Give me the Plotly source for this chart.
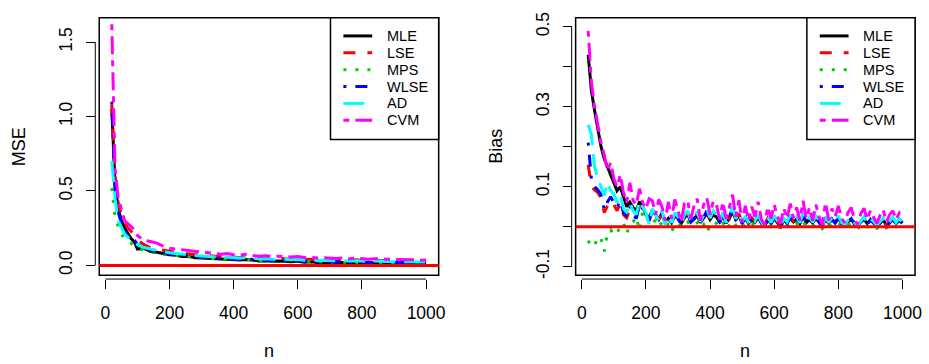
import plotly.graph_objects as go

# ---------------- data ----------------
methods = ["MLE", "LSE", "MPS", "WLSE", "AD", "CVM"]

n_mse = [20, 30, 40, 50, 60, 70, 80, 90, 100,
         120, 140, 160, 180, 200, 220, 240, 260, 280, 300,
         320, 340, 360, 380, 400, 420, 440, 460, 480, 500,
         520, 540, 560, 580, 600, 620, 640, 660, 680, 700,
         720, 740, 760, 780, 800, 820, 840, 860, 880, 900,
         920, 940, 960, 980, 1000]

mse_mle = [1.05, 0.55, 0.38, 0.30, 0.25, 0.21, 0.18, 0.16, 0.11,
           0.115, 0.095, 0.088, 0.078, 0.072, 0.068, 0.060, 0.062, 0.052, 0.050,
           0.048, 0.045, 0.040, 0.042, 0.038, 0.036, 0.040, 0.033, 0.030, 0.032,
           0.028, 0.030, 0.026, 0.025, 0.028, 0.022, 0.024, 0.020, 0.022, 0.019,
           0.018, 0.020, 0.017, 0.019, 0.016, 0.015, 0.017, 0.014, 0.015, 0.013,
           0.014, 0.012, 0.013, 0.011, 0.012]
mse_lse = [1.08, 0.60, 0.42, 0.34, 0.29, 0.25, 0.23, 0.20, 0.17,
           0.14, 0.12, 0.11, 0.10, 0.095, 0.088, 0.082, 0.080, 0.072, 0.070,
           0.066, 0.062, 0.058, 0.060, 0.056, 0.052, 0.060, 0.050, 0.048, 0.050,
           0.046, 0.048, 0.044, 0.042, 0.046, 0.040, 0.042, 0.038, 0.040, 0.036,
           0.036, 0.040, 0.034, 0.038, 0.034, 0.032, 0.036, 0.032, 0.034, 0.030,
           0.032, 0.030, 0.031, 0.028, 0.030]
mse_mps = [0.52, 0.33, 0.26, 0.21, 0.18, 0.16, 0.15, 0.13, 0.12,
           0.10, 0.09, 0.08, 0.075, 0.070, 0.065, 0.060, 0.058, 0.052, 0.050,
           0.048, 0.046, 0.042, 0.044, 0.040, 0.038, 0.040, 0.035, 0.032, 0.034,
           0.030, 0.032, 0.028, 0.027, 0.030, 0.025, 0.026, 0.023, 0.024, 0.021,
           0.020, 0.022, 0.019, 0.021, 0.018, 0.017, 0.019, 0.016, 0.017, 0.015,
           0.016, 0.014, 0.015, 0.013, 0.014]
mse_wlse = [1.10, 0.50, 0.36, 0.28, 0.24, 0.21, 0.19, 0.17, 0.14,
            0.12, 0.10, 0.09, 0.085, 0.078, 0.072, 0.066, 0.064, 0.058, 0.055,
            0.052, 0.050, 0.045, 0.048, 0.043, 0.040, 0.045, 0.038, 0.035, 0.037,
            0.033, 0.035, 0.031, 0.030, 0.033, 0.027, 0.029, 0.025, 0.027, 0.024,
            0.023, 0.025, 0.022, 0.024, 0.021, 0.020, 0.022, 0.019, 0.020, 0.018,
            0.019, 0.017, 0.018, 0.016, 0.017]
mse_ad = [0.70, 0.45, 0.30, 0.25, 0.21, 0.19, 0.17, 0.15, 0.14,
          0.12, 0.11, 0.10, 0.09, 0.085, 0.080, 0.074, 0.072, 0.066, 0.063,
          0.060, 0.058, 0.053, 0.056, 0.051, 0.048, 0.053, 0.046, 0.043, 0.045,
          0.041, 0.043, 0.039, 0.038, 0.041, 0.035, 0.037, 0.033, 0.035, 0.031,
          0.030, 0.033, 0.029, 0.031, 0.028, 0.027, 0.029, 0.026, 0.027, 0.024,
          0.025, 0.023, 0.024, 0.021, 0.022]
mse_cvm = [1.62, 0.65, 0.45, 0.38, 0.30, 0.28, 0.26, 0.24, 0.20,
           0.17, 0.16, 0.15, 0.13, 0.115, 0.110, 0.105, 0.100, 0.090, 0.088,
           0.085, 0.080, 0.075, 0.080, 0.072, 0.070, 0.075, 0.066, 0.062, 0.065,
           0.060, 0.062, 0.058, 0.056, 0.060, 0.053, 0.055, 0.050, 0.052, 0.048,
           0.047, 0.050, 0.045, 0.048, 0.044, 0.042, 0.045, 0.041, 0.042, 0.039,
           0.040, 0.037, 0.038, 0.035, 0.036]

n_bias = list(range(20, 1001, 10))

bias_mle = [0.430, 0.340, 0.290, 0.240, 0.200, 0.170, 0.150, 0.130, 0.110, 0.090,
            0.100, 0.072, 0.050, 0.061, 0.048, 0.040, 0.062, 0.051, 0.030, 0.022,
            0.041, 0.030, 0.018, 0.032, 0.012, 0.021, 0.010, 0.028, 0.020, 0.008,
            0.022, 0.031, 0.012, 0.019, 0.028, 0.010, 0.021, 0.033, 0.018, 0.030,
            0.024, 0.012, 0.028, 0.009, 0.020, 0.038, 0.018, 0.027, 0.010, 0.021,
            0.008, 0.019, 0.011, 0.022, 0.009, 0.002, 0.018, 0.008, 0.020, 0.011,
            0.000, 0.017, 0.009, 0.021, 0.012, 0.019, 0.008, 0.026, 0.010, 0.018,
            0.009, 0.021, 0.011, 0.001, 0.019, 0.008, 0.017, 0.010, 0.020, 0.009,
            0.003, 0.012, 0.018, 0.009, 0.002, 0.011, 0.019, 0.008, 0.016, 0.010,
            0.001, 0.009, 0.017, 0.003, 0.010, 0.018, 0.008, 0.015, 0.009]
bias_lse = [0.155, 0.100, 0.092, 0.085, 0.072, 0.035, 0.052, 0.066, 0.055, 0.040,
            0.058, 0.030, 0.022, 0.045, 0.035, 0.028, 0.050, 0.040, 0.025, 0.018,
            0.038, 0.026, 0.015, 0.034, 0.014, 0.024, 0.012, 0.030, 0.022, 0.010,
            0.026, 0.034, 0.015, 0.022, 0.035, 0.012, 0.025, 0.038, 0.020, 0.035,
            0.028, 0.014, 0.033, 0.010, 0.024, 0.045, 0.020, 0.032, 0.012, 0.024,
            0.010, 0.022, 0.014, 0.026, 0.011, 0.004, 0.021, 0.010, 0.024, 0.013,
            0.002, 0.020, 0.012, 0.025, 0.014, 0.022, 0.010, 0.030, 0.012, 0.021,
            0.011, 0.025, 0.013, 0.003, 0.022, 0.010, 0.020, 0.012, 0.024, 0.011,
            0.004, 0.014, 0.021, 0.010, 0.003, 0.013, 0.022, 0.010, 0.019, 0.012,
            0.002, 0.011, 0.020, 0.004, 0.012, 0.022, 0.010, 0.018, 0.011]
bias_mps = [-0.035, -0.050, -0.048, -0.025, -0.030, -0.062, -0.015, -0.008, -0.022, -0.012,
            -0.005, 0.010, -0.018, 0.005, 0.012, 0.025, -0.010, 0.038, 0.030, 0.010,
            0.005, 0.018, 0.002, 0.010, -0.003, 0.008, -0.012, 0.004, 0.010, -0.002,
            0.008, 0.012, 0.001, 0.006, 0.010, -0.004, 0.005, -0.015, 0.004, 0.012,
            0.008, -0.002, 0.010, -0.008, 0.004, 0.015, 0.003, 0.010, -0.001, 0.006,
            0.000, 0.008, 0.002, 0.010, 0.001, -0.003, 0.007, 0.000, 0.009, 0.002,
            -0.004, 0.006, 0.001, 0.010, 0.003, 0.008, 0.000, 0.012, 0.002, 0.007,
            0.001, 0.009, 0.003, -0.005, 0.008, 0.001, 0.007, 0.002, 0.009, 0.001,
            -0.003, 0.004, 0.008, 0.001, -0.005, 0.003, 0.009, 0.000, 0.006, 0.002,
            -0.004, 0.002, 0.007, -0.003, 0.003, 0.008, 0.000, 0.006, 0.002]
bias_wlse = [0.210, 0.120, 0.100, 0.092, 0.080, 0.042, 0.062, 0.075, 0.060, 0.048,
             0.065, 0.035, 0.025, 0.050, 0.030, 0.020, 0.055, 0.045, 0.028, 0.015,
             0.040, 0.028, 0.012, 0.035, 0.010, 0.022, 0.008, 0.030, 0.020, 0.006,
             0.024, 0.036, 0.012, 0.020, 0.034, 0.008, 0.024, 0.040, 0.018, 0.036,
             0.026, 0.010, 0.032, 0.006, 0.022, 0.046, 0.016, 0.030, 0.008, 0.022,
             0.006, 0.020, 0.010, 0.026, 0.008, -0.002, 0.020, 0.006, 0.024, 0.010,
             -0.003, 0.018, 0.008, 0.025, 0.010, 0.021, 0.006, 0.030, 0.008, 0.020,
             0.007, 0.024, 0.010, -0.002, 0.021, 0.006, 0.019, 0.009, 0.023, 0.007,
             0.000, 0.012, 0.020, 0.006, -0.002, 0.010, 0.021, 0.006, 0.017, 0.009,
             -0.001, 0.008, 0.018, 0.001, 0.009, 0.020, 0.006, 0.016, 0.008]
bias_ad = [0.255, 0.230, 0.150, 0.120, 0.100, 0.078, 0.110, 0.090, 0.082, 0.060,
           0.080, 0.045, 0.035, 0.060, 0.040, 0.030, 0.065, 0.050, 0.035, 0.005,
           0.045, 0.030, 0.015, 0.040, 0.005, 0.028, 0.010, 0.035, 0.025, 0.008,
           0.030, 0.040, 0.015, 0.025, 0.038, 0.012, 0.028, 0.045, 0.022, 0.040,
           0.030, 0.014, 0.036, 0.010, 0.026, 0.050, 0.020, 0.035, 0.012, 0.026,
           0.010, 0.024, 0.014, 0.030, 0.012, 0.002, 0.024, 0.010, 0.028, 0.014,
           0.001, 0.022, 0.012, 0.029, 0.014, 0.025, 0.010, 0.034, 0.012, 0.024,
           0.011, 0.028, 0.014, 0.002, 0.025, 0.010, 0.023, 0.013, 0.027, 0.011,
           0.004, 0.016, 0.024, 0.010, 0.002, 0.014, 0.025, 0.010, 0.021, 0.013,
           0.003, 0.012, 0.022, 0.005, 0.013, 0.024, 0.010, 0.020, 0.012]
bias_cvm = [0.490, 0.360, 0.300, 0.250, 0.210, 0.180, 0.140, 0.160, 0.120, 0.100,
            0.130, 0.085, 0.060, 0.110, 0.065, 0.055, 0.095, 0.060, 0.045, 0.070,
            0.065, 0.030, 0.068, 0.050, 0.015, 0.062, 0.020, 0.068, 0.040, 0.012,
            0.058, 0.066, 0.020, 0.052, 0.070, 0.015, 0.055, 0.072, 0.030, 0.064,
            0.055, 0.018, 0.062, 0.020, 0.048, 0.080, 0.025, 0.066, 0.012, 0.052,
            0.015, 0.050, 0.025, 0.062, 0.018, 0.005, 0.050, 0.020, 0.055, 0.026,
            0.008, 0.046, 0.020, 0.058, 0.022, 0.048, 0.015, 0.065, 0.020, 0.048,
            0.015, 0.055, 0.024, 0.004, 0.060, 0.016, 0.045, 0.025, 0.052, 0.020,
            0.010, 0.035, 0.048, 0.018, 0.006, 0.032, 0.046, 0.018, 0.040, 0.025,
            0.008, 0.028, 0.042, 0.012, 0.030, 0.040, 0.018, 0.034, 0.022]

x_ticks = [0, 200, 400, 600, 800, 1000]
mse_ticks = [0.0, 0.5, 1.0, 1.5]
mse_ticktext = ["0.0", "0.5", "1.0", "1.5"]
bias_ticks = [-0.1, 0.0, 0.1, 0.2, 0.3, 0.4, 0.5]
bias_ticktext = ["-0.1", "", "0.1", "", "0.3", "", "0.5"]

# ---------------- style ----------------
W, H = 929, 364
FONT = "Liberation Sans, Arial, Helvetica, sans-serif"
colors = ["#000000", "#FF0000", "#00CD00", "#0000FF", "#00FFFF", "#FF00FF"]
dashes = ["solid", "12px,12px", "3px,9px", "3px,9px,12px,9px", "21px,9px", "6px,6px,18px,6px"]
LW = 3

def px(x):
    return x / W

def py(y):
    return 1 - y / H

mse_series = [mse_mle, mse_lse, mse_mps, mse_wlse, mse_ad, mse_cvm]
bias_series = [bias_mle, bias_lse, bias_mps, bias_wlse, bias_ad, bias_cvm]

fig = go.Figure()
for name, col, d, ys in zip(methods, colors, dashes, mse_series):
    fig.add_trace(go.Scatter(x=n_mse, y=ys, mode="lines", name=name,
                             line=dict(color=col, width=LW, dash=d),
                             xaxis="x", yaxis="y", showlegend=False))
for name, col, d, ys in zip(methods, colors, dashes, bias_series):
    fig.add_trace(go.Scatter(x=n_bias, y=ys, mode="lines", name=name,
                             line=dict(color=col, width=LW, dash=d),
                             xaxis="x2", yaxis="y2", showlegend=False))

# panel geometry (pixels)
L1, R1 = 100, 442
L2, R2 = 580, 922
TOP, BOT = 13, 277
XAX_Y = 281       # x axis line (pixels from top)
YAX1_X = 96
YAX2_X = 576

tickfont = dict(family=FONT, size=17.5, color="black")
common_x = dict(range=[-19.2, 1039.2], tickvals=x_ticks, ticks="outside", ticklen=9,
                tickwidth=1, tickcolor="black", showgrid=False, zeroline=False,
                showline=False, tickfont=tickfont, anchor="free",
                position=py(XAX_Y), ticklabelstandoff=9, fixedrange=True)
common_y = dict(ticks="outside", ticklen=9, tickwidth=1, tickcolor="black",
                showgrid=False, zeroline=False, showline=False, tickfont=tickfont,
                tickangle=-90, anchor="free", ticklabelstandoff=7, fixedrange=True)

fig.update_layout(
    width=W, height=H, autosize=False,
    margin=dict(l=0, r=0, t=0, b=0),
    paper_bgcolor="white", plot_bgcolor="white",
    font=dict(family=FONT, color="black"),
    showlegend=False,
    xaxis=dict(domain=[px(L1), px(R1)], **common_x),
    xaxis2=dict(domain=[px(L2), px(R2)], **common_x),
    yaxis=dict(domain=[py(BOT), py(TOP)], range=[-0.0655, 1.664],
               tickvals=mse_ticks, ticktext=mse_ticktext, position=px(YAX1_X), **common_y),
    yaxis2=dict(domain=[py(BOT), py(TOP)], range=[-0.1213, 0.5228],
                tickvals=bias_ticks, ticktext=bias_ticktext, position=px(YAX2_X), **common_y),
)

shapes = []
annotations = []
for xr, yr, yax_x, ymin, ymax in [("x", "y", YAX1_X, 0.0, 1.5), ("x2", "y2", YAX2_X, -0.1, 0.5)]:
    shapes.append(dict(type="rect", xref=f"{xr} domain", yref=f"{yr} domain",
                       x0=0, x1=1, y0=0, y1=1, line=dict(color="black", width=1.5), layer="above"))
    shapes.append(dict(type="line", xref=f"{xr} domain", yref=yr, x0=0, x1=1, y0=0, y1=0,
                       line=dict(color="#FF0000", width=3), layer="above"))
    shapes.append(dict(type="line", xref=xr, yref="paper", x0=x_ticks[0], x1=x_ticks[-1],
                       y0=py(XAX_Y), y1=py(XAX_Y), line=dict(color="black", width=1)))
    shapes.append(dict(type="line", xref="paper", yref=yr, x0=px(yax_x), x1=px(yax_x),
                       y0=ymin, y1=ymax, line=dict(color="black", width=1)))

# legends (R-style, top-right inside each panel)
leg_font = dict(family=FONT, size=14.5, color="black")
row_y = [31.7, 49.0, 66.3, 83.6, 100.9, 118.2]
for lx0, lx1 in [(333, R1), (813, R2)]:
    shapes.append(dict(type="rect", xref="paper", yref="paper", x0=px(lx0), x1=px(lx1),
                       y0=py(138), y1=py(TOP), line=dict(color="black", width=1.5),
                       fillcolor="white", layer="above"))
    for name, col, d, ry in zip(methods, colors, dashes, row_y):
        shapes.append(dict(type="line", xref="paper", yref="paper", x0=px(lx0 + 13), x1=px(lx0 + 42),
                           y0=py(ry), y1=py(ry), line=dict(color=col, width=LW, dash=d),
                           layer="above"))
        annotations.append(dict(text=name, x=px(lx0 + 55), y=py(ry), xref="paper", yref="paper",
                                showarrow=False, font=leg_font, xanchor="left", yanchor="middle"))
fig.update_layout(shapes=shapes)

title_font = dict(family=FONT, size=18, color="black")
titles = [
    dict(text="MSE", x=px(20), y=py((TOP + BOT) / 2), textangle=-90),
    dict(text="n", x=px((L1 + R1) / 2), y=py(355)),
    dict(text="Bias", x=px(500), y=py((TOP + BOT) / 2), textangle=-90),
    dict(text="n", x=px((L2 + R2) / 2), y=py(355)),
]
for a in titles:
    a.update(xref="paper", yref="paper", showarrow=False, font=title_font,
             xanchor="center", yanchor="middle")
fig.update_layout(annotations=annotations + titles)

fig.write_html("out.html", config={"displayModeBar": False, "staticPlot": True},
               post_script="document.body.style.margin='0';")
